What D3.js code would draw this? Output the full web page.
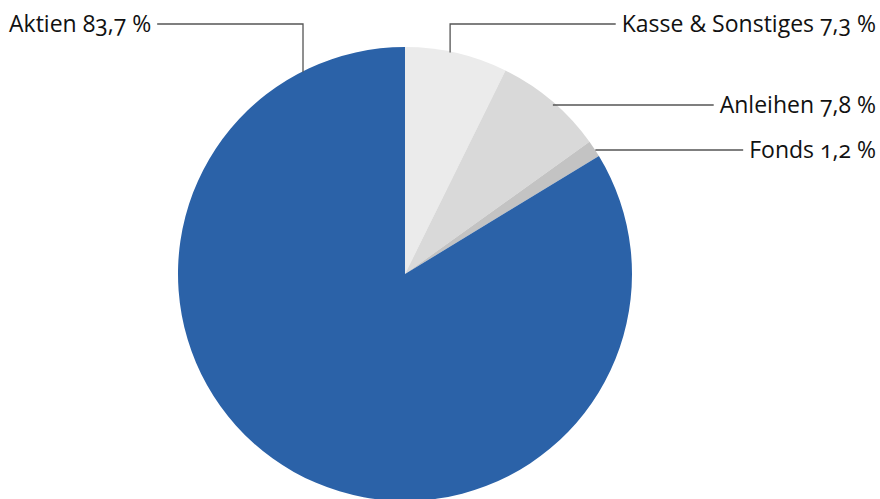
<!DOCTYPE html>
<html>
<head>
<meta charset="utf-8">
<script src="https://cdn.jsdelivr.net/npm/d3@7"></script>
<style>
  html, body { margin:0; padding:0; background:#fff; }
  text { font-family:"Open Sans", sans-serif; font-variant-numeric:oldstyle-nums; font-feature-settings:"onum"; fill:#111; }
</style>
</head>
<body>
<div id="chart"></div>
<script>
// data
var categories = ['Kasse & Sonstiges', 'Anleihen', 'Fonds', 'Aktien']
var values = [7.3, 7.8, 1.2, 83.7]
var labels = ['Kasse & Sonstiges 7,3 %', 'Anleihen 7,8 %', 'Fonds 1,2 %', 'Aktien 83,7 %']

var width = 880, height = 499
var cx = 405, cy = 274, radius = 227
var fontSize = '23px'

var color = d3.scaleOrdinal()
    .domain(categories)
    .range(['#ebebeb', '#d9d9d9', '#c3c3c3', '#2b62a8'])

// where the leader lines go
var layout = {
    'Kasse & Sonstiges': { y:24, elbow:true, side:'right', angle:0.2 },
    'Anleihen': { y:105, elbow:false, side:'right' },
    'Fonds': { y:150, elbow:false, side:'right' },
    'Aktien': { y:24, elbow:true, side:'left', angle:-0.466 }
}

var svg = d3.select('#chart').append('svg')
    .attr('width', width)
    .attr('height', height)

var pie = d3.pie().sort(null).value(function(d){ return d.value })
var arc = d3.arc().innerRadius(0).outerRadius(radius)

var data = categories.map(function(c, i){ return { cat:c, value:values[i], label:labels[i] } })
var arcs = pie(data)

var g = svg.append('g').attr('transform', 'translate(' + cx + ',' + cy + ')')

g.selectAll('path')
    .data(arcs)
    .enter()
    .append('path')
    .attr('d', arc)
    .attr('fill', function(d){ return color(d.data.cat) })

function edgePoint(a){
    return [cx + radius * Math.sin(a), cy - radius * Math.cos(a)]
}

var leaders = svg.append('g')
arcs.forEach(function(d){
    var l = layout[d.data.cat]
    var a = l.angle != null ? l.angle : (d.startAngle + d.endAngle) / 2
    var p = edgePoint(a)
    var pts
    var t = leaders.append('text')
        .attr('y', l.y + 8)
        .attr('font-size', fontSize)
        .text(d.data.label)
    if (l.side == 'right'){
        t.attr('x', 876).attr('text-anchor', 'end')
        var endX = 876 - t.node().getComputedTextLength() - 6
        pts = l.elbow ? [[p[0], p[1] + 1], [p[0], l.y], [endX, l.y]] : [[p[0] + 1, l.y], [endX, l.y]]
    } else {
        t.attr('x', 9).attr('text-anchor', 'start')
        var startX = 9 + t.node().getComputedTextLength() + 6
        pts = [[startX, l.y], [p[0], l.y], [p[0], p[1] + 1]]
    }
    leaders.append('path')
        .attr('d', d3.line()(pts))
        .attr('fill', 'none')
        .attr('stroke', '#555')
        .attr('stroke-width', 1.3)
})
</script>
</body>
</html>
